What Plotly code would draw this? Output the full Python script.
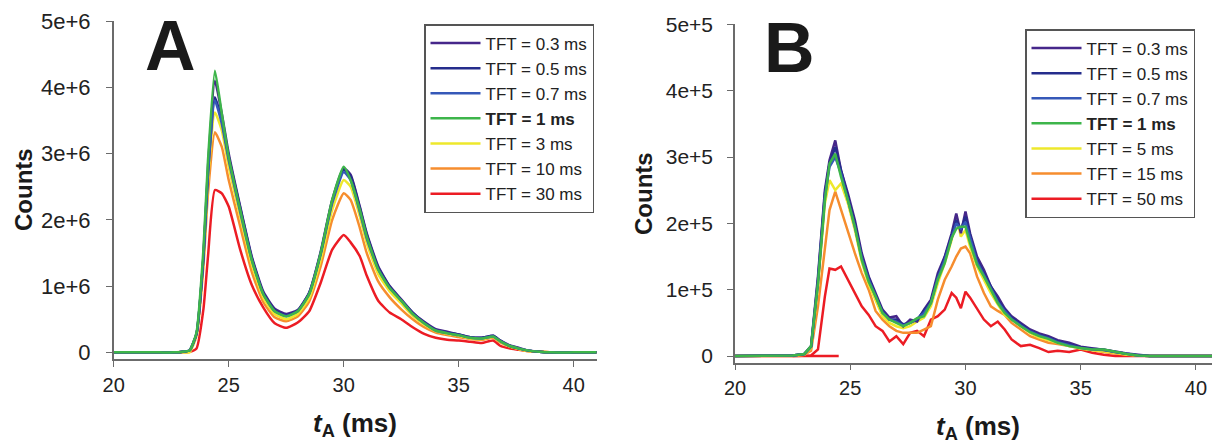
import plotly.graph_objects as go

# ---------------- data ----------------
series_names_a = ["TFT = 0.3 ms", "TFT = 0.5 ms", "TFT = 0.7 ms", "<b>TFT = 1 ms</b>",
                  "TFT = 3 ms", "TFT = 10 ms", "TFT = 30 ms"]
series_names_b = ["TFT = 0.3 ms", "TFT = 0.5 ms", "TFT = 0.7 ms", "<b>TFT = 1 ms</b>",
                  "TFT = 5 ms", "TFT = 15 ms", "TFT = 50 ms"]
colors = ["#46278a", "#252d8c", "#3558b8", "#3db54a", "#eee82c", "#f68d2e", "#ec1c24"]

# Panel A: t_A (ms) and counts (x 1e6)
xa = [20, 21, 22, 22.6, 23.0, 23.3, 23.6, 23.9, 24.1, 24.4, 24.7, 25.0, 25.5, 26.0, 26.5,
      27.0, 27.5, 28.0, 28.5, 29.0, 29.5, 30.0, 30.3, 30.7, 31.0, 31.5, 32.0, 32.5, 33.0,
      33.5, 34.0, 34.5, 35.0, 35.5, 36.0, 36.5, 36.8, 37.2, 37.6, 38.0, 38.5, 39.0, 40.0, 41.0]
a_03 = [0, 0, 0, 0, 0.01, 0.03, 0.28, 1.45, 2.8, 4.1, 3.6, 3.0, 2.2, 1.45, 0.92,
        0.66, 0.58, 0.64, 0.9, 1.52, 2.3, 2.78, 2.68, 2.2, 1.8, 1.3, 1.0, 0.8, 0.6,
        0.46, 0.35, 0.31, 0.27, 0.23, 0.22, 0.25, 0.18, 0.11, 0.07, 0.03, 0.01, 0, 0, 0]
a_05 = [0, 0, 0, 0, 0.01, 0.03, 0.28, 1.42, 2.7, 3.85, 3.5, 2.95, 2.18, 1.43, 0.9,
        0.64, 0.56, 0.63, 0.9, 1.5, 2.28, 2.76, 2.66, 2.18, 1.78, 1.28, 0.99, 0.79, 0.6,
        0.45, 0.34, 0.3, 0.27, 0.23, 0.22, 0.25, 0.18, 0.1, 0.06, 0.03, 0.01, 0, 0, 0]
a_07 = [0, 0, 0, 0, 0.01, 0.03, 0.28, 1.42, 2.7, 3.8, 3.45, 2.9, 2.12, 1.4, 0.88,
        0.62, 0.55, 0.62, 0.88, 1.48, 2.25, 2.72, 2.6, 2.12, 1.72, 1.25, 0.97, 0.78, 0.58,
        0.44, 0.33, 0.29, 0.26, 0.22, 0.21, 0.24, 0.17, 0.1, 0.06, 0.03, 0.01, 0, 0, 0]
a_1 = [0, 0, 0, 0, 0.01, 0.03, 0.3, 1.55, 2.9, 4.25, 3.6, 2.95, 2.15, 1.4, 0.88,
       0.62, 0.54, 0.62, 0.88, 1.5, 2.3, 2.8, 2.6, 2.15, 1.75, 1.25, 0.97, 0.78, 0.58,
       0.44, 0.33, 0.29, 0.26, 0.22, 0.21, 0.24, 0.17, 0.1, 0.06, 0.03, 0.01, 0, 0, 0]
a_3 = [0, 0, 0, 0, 0, 0, 0.25, 1.35, 2.6, 3.62, 3.35, 2.8, 2.05, 1.33, 0.83,
       0.58, 0.5, 0.58, 0.82, 1.4, 2.15, 2.6, 2.5, 2.05, 1.65, 1.18, 0.92, 0.74, 0.55,
       0.42, 0.32, 0.28, 0.25, 0.21, 0.2, 0.23, 0.16, 0.09, 0.05, 0.02, 0.01, 0, 0, 0]
a_10 = [0, 0, 0, 0, 0.01, 0.02, 0.25, 1.3, 2.4, 3.32, 3.1, 2.6, 1.9, 1.22, 0.76,
        0.53, 0.47, 0.54, 0.77, 1.3, 2.0, 2.4, 2.3, 1.88, 1.5, 1.07, 0.83, 0.65, 0.5,
        0.38, 0.3, 0.26, 0.23, 0.2, 0.19, 0.22, 0.15, 0.09, 0.05, 0.02, 0.01, 0, 0, 0]
a_30 = [0, 0, 0, 0, 0, 0.01, 0.06, 0.65, 1.45, 2.45, 2.4, 2.2, 1.55, 1.02, 0.68,
        0.44, 0.37, 0.45, 0.62, 1.05, 1.55, 1.77, 1.66, 1.45, 1.16, 0.78, 0.6, 0.5, 0.38,
        0.28, 0.22, 0.19, 0.18, 0.16, 0.14, 0.18, 0.1, 0.06, 0.04, 0.02, 0.01, 0, 0, 0]

# Panel B: t_A (ms) and counts (x 1e5)
xb = [20, 21, 22, 22.5, 23.0, 23.3, 23.6, 23.9, 24.1, 24.35, 24.6, 24.9, 25.2, 25.5, 25.8,
      26.1, 26.4, 26.7, 27.0, 27.3, 27.6, 27.9, 28.2, 28.5, 28.8, 29.1, 29.4, 29.6, 29.8,
      30.0, 30.2, 30.5, 30.8, 31.1, 31.4, 31.7, 32.0, 32.4, 32.8, 33.2, 33.6, 34.0, 34.5,
      35.0, 35.5, 36.0, 36.5, 37.0, 37.5, 38.0, 39.0, 40.0, 41.0]
b_03 = [0, 0, 0, 0.01, 0.03, 0.15, 1.2, 2.5, 2.95, 3.25, 2.8, 2.45, 2.05, 1.55, 1.2, 0.95,
        0.7, 0.58, 0.6, 0.45, 0.55, 0.52, 0.7, 0.85, 1.25, 1.5, 1.85, 2.15, 1.85, 2.18, 1.85,
        1.5, 1.3, 1.05, 0.9, 0.72, 0.6, 0.5, 0.4, 0.34, 0.3, 0.24, 0.2, 0.14, 0.12, 0.1,
        0.07, 0.04, 0.02, 0, 0, 0, 0]
b_05 = [0, 0, 0, 0.01, 0.03, 0.14, 1.15, 2.45, 2.9, 3.15, 2.8, 2.4, 2.0, 1.5, 1.18, 0.92,
        0.68, 0.55, 0.55, 0.48, 0.5, 0.55, 0.68, 0.82, 1.2, 1.48, 1.82, 2.05, 1.9, 2.1, 1.82,
        1.45, 1.25, 1.05, 0.85, 0.7, 0.58, 0.48, 0.38, 0.32, 0.28, 0.22, 0.17, 0.13, 0.11, 0.1,
        0.06, 0.03, 0.01, 0, 0, 0, 0]
b_07 = [0, 0, 0, 0.01, 0.03, 0.14, 1.1, 2.4, 2.85, 3.0, 2.75, 2.35, 1.95, 1.48, 1.15, 0.9,
        0.66, 0.55, 0.52, 0.46, 0.5, 0.56, 0.65, 0.8, 1.18, 1.45, 1.8, 2.0, 1.92, 2.02, 1.78,
        1.42, 1.22, 1.02, 0.82, 0.68, 0.56, 0.46, 0.37, 0.31, 0.27, 0.21, 0.16, 0.12, 0.1, 0.09,
        0.06, 0.03, 0.01, 0, 0, 0, 0]
b_1 = [0, 0, 0, 0.01, 0.03, 0.15, 1.1, 2.35, 2.9, 3.05, 2.7, 2.35, 1.95, 1.45, 1.12, 0.9,
       0.65, 0.55, 0.5, 0.45, 0.5, 0.57, 0.6, 0.8, 1.15, 1.4, 1.78, 1.92, 1.95, 1.95, 1.7,
       1.38, 1.2, 1.0, 0.8, 0.65, 0.55, 0.45, 0.36, 0.3, 0.26, 0.2, 0.15, 0.12, 0.1, 0.1,
       0.06, 0.03, 0.01, 0, 0, 0, 0]
b_5 = [0, 0, 0, 0.01, 0.02, 0.12, 1.05, 2.3, 2.65, 2.5, 2.6, 2.3, 1.9, 1.42, 1.08, 0.85,
       0.6, 0.5, 0.45, 0.42, 0.45, 0.52, 0.58, 0.75, 1.1, 1.4, 1.75, 2.12, 1.8, 1.9, 1.65,
       1.35, 1.15, 0.95, 0.78, 0.62, 0.55, 0.45, 0.35, 0.28, 0.24, 0.19, 0.15, 0.11, 0.09, 0.08,
       0.05, 0.02, 0.01, 0, 0, 0, 0]
b_15 = [0, 0, 0, 0, 0.02, 0.08, 0.75, 1.65, 2.2, 2.48, 2.2, 1.88, 1.55, 1.25, 1.0, 0.68,
        0.55, 0.45, 0.38, 0.35, 0.35, 0.35, 0.4, 0.45, 0.85, 1.15, 1.35, 1.5, 1.62, 1.65, 1.55,
        1.2, 0.95, 0.75, 0.68, 0.62, 0.5, 0.4, 0.3, 0.25, 0.2, 0.18, 0.15, 0.12, 0.08, 0.06,
        0.04, 0.02, 0.01, 0, 0, 0, 0]
b_50 = [None, None, None, 0, 0, 0.01, 0.1, 0.9, 1.32, 1.3, 1.35, 1.15, 0.95, 0.75, 0.62, 0.45,
        0.38, 0.22, 0.3, 0.18, 0.35, 0.38, 0.3, 0.55, 0.6, 0.7, 0.95, 0.88, 0.72, 0.97, 0.88,
        0.72, 0.55, 0.45, 0.52, 0.4, 0.25, 0.15, 0.17, 0.12, 0.06, 0.08, 0.06, 0.1, 0.05, 0.02,
        0, 0, 0, 0, 0, 0, 0]
# separate flat red baseline segment seen in panel B
b_50_base_x = [20.0, 24.5]
b_50_base = [0, 0]

ya_ticks = [0, 1e6, 2e6, 3e6, 4e6, 5e6]
ya_text = ["0", "1e+6", "2e+6", "3e+6", "4e+6", "5e+6"]
yb_ticks = [0, 1e5, 2e5, 3e5, 4e5, 5e5]
yb_text = ["0", "1e+5", "2e+5", "3e+5", "4e+5", "5e+5"]
x_ticks = [20, 25, 30, 35, 40]

# ---------------- figure ----------------
FONT = "Arial, Liberation Sans, sans-serif"
OFF = 8                      # default page margin around the plot div
W, H = 1220 - OFF, 446 - OFF  # figure size so it fills the 1220x446 window


def px(x):
    """window pixel x -> paper fraction"""
    return (x - OFF) / W


def py(y):
    """window pixel y (from top) -> paper fraction"""
    return (446 - y) / H


fig = go.Figure()

a_series = [a_03, a_05, a_07, a_1, a_3, a_10, a_30]
b_series = [b_03, b_05, b_07, b_1, b_5, b_15, b_50]
draw_order = [6, 5, 4, 0, 1, 2, 3]

for i in draw_order:
    fig.add_trace(go.Scatter(
        x=xa, y=[v * 1e6 for v in a_series[i]], mode="lines", name=series_names_a[i],
        line=dict(color=colors[i], width=2.5, shape="spline", smoothing=0.5),
        legendrank=i + 1, legend="legend", xaxis="x", yaxis="y"))

for i in draw_order:
    if i == 6:
        xs = b_50_base_x + [None] + xb
        ys = b_50_base + [None] + [None if v is None else v * 1e5 for v in b_series[i]]
    else:
        xs = xb
        ys = [v * 1e5 for v in b_series[i]]
    fig.add_trace(go.Scatter(
        x=xs, y=ys, mode="lines", name=series_names_b[i], connectgaps=False,
        line=dict(color=colors[i], width=2.5), legendrank=i + 1, legend="legend2",
        xaxis="x2", yaxis="y2"))


def axis_common(size):
    return dict(showgrid=False, zeroline=False, showline=True, linecolor="#6b6b6b",
                linewidth=1.5, ticks="outside", ticklen=6, tickcolor="#6b6b6b",
                tickwidth=1.2, automargin=False,
                tickfont=dict(family=FONT, size=size, color="#222"))


legend_common = dict(xanchor="left", yanchor="top", bgcolor="white", bordercolor="#555",
                     borderwidth=1.5, font=dict(family=FONT, size=17, color="#222"),
                     itemwidth=50, tracegroupgap=0)

fig.update_layout(
    width=W, height=H, margin=dict(l=0, r=0, t=0, b=0, autoexpand=False),
    paper_bgcolor="white", plot_bgcolor="white",
    font=dict(family=FONT, color="#222"),
    xaxis=dict(domain=[px(113.7), px(596.7)], range=[20, 41], tickvals=x_ticks,
               anchor="y", ticklabelstandoff=1, **axis_common(20)),
    yaxis=dict(domain=[py(359), py(21)], range=[-0.1e6, 5e6], tickvals=ya_ticks,
               ticktext=ya_text, anchor="x", ticklabelstandoff=11, **axis_common(22)),
    xaxis2=dict(domain=[px(735), px(1219)], range=[20, 41], tickvals=x_ticks,
                anchor="y2", ticklabelstandoff=1, **axis_common(20)),
    yaxis2=dict(domain=[py(362.7), py(24.3)], range=[-0.1e5, 5e5], tickvals=yb_ticks,
                ticktext=yb_text, anchor="x2", ticklabelstandoff=10, **axis_common(21)),
    legend=dict(x=px(424), y=py(24), **legend_common),
    legend2=dict(x=px(1025), y=py(29), **legend_common),
    showlegend=True,
)

ann = [
    dict(text="<b>A</b>", x=px(170), y=py(46), font=dict(size=70)),
    dict(text="<b>B</b>", x=px(789), y=py(48), font=dict(size=70)),
    dict(text="<b>Counts</b>", x=px(23), y=py(190), font=dict(size=24), textangle=-90),
    dict(text="<b>Counts</b>", x=px(643), y=py(194), font=dict(size=24), textangle=-90),
    dict(text="<b><i>t</i><sub>A</sub> (ms)</b>", x=px(355), y=py(424), font=dict(size=26)),
    dict(text="<b><i>t</i><sub>A</sub> (ms)</b>", x=px(978), y=py(427), font=dict(size=26)),
]
for a in ann:
    a["font"].update(family=FONT, color="#1a1a1a")
    fig.add_annotation(xref="paper", yref="paper", showarrow=False,
                       xanchor="center", yanchor="middle", **a)

fig.write_html("out.html")
